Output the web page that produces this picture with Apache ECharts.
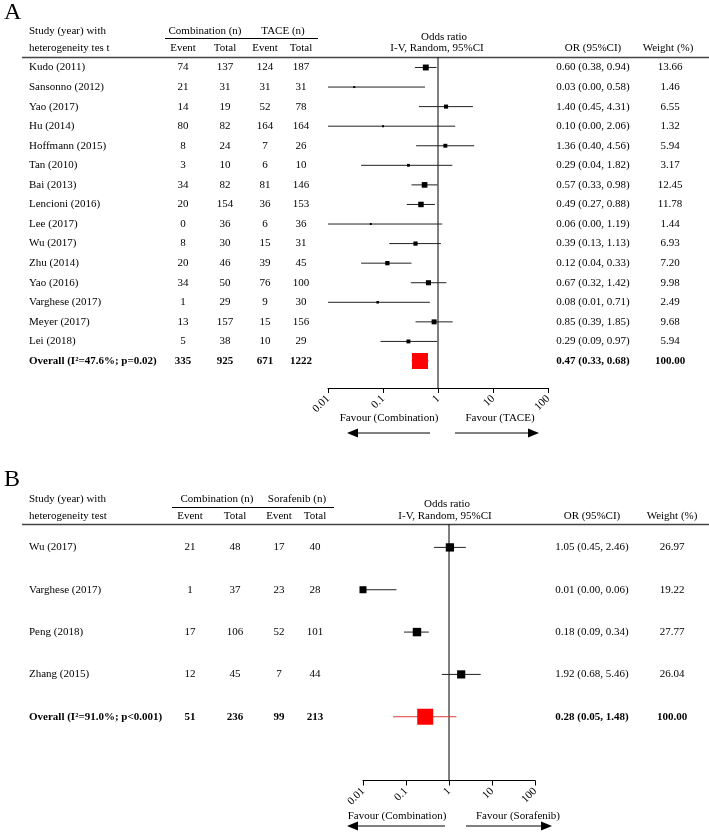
<!DOCTYPE html>
<html>
<head>
<meta charset="utf-8">
<script src="https://cdn.jsdelivr.net/npm/echarts@6/dist/echarts.min.js"></script>
<style>html,body{margin:0;padding:0;background:#fff}#c{width:709px;height:835px}</style>
</head>
<body>
<div id="c"></div>
<script>
// ---------- DATA: Panel A (Combination vs TACE) ----------
const studiesA = ['Kudo (2011)','Sansonno (2012)','Yao (2017)','Hu (2014)','Hoffmann (2015)','Tan (2010)','Bai (2013)','Lencioni (2016)','Lee (2017)','Wu (2017)','Zhu (2014)','Yao (2016)','Varghese (2017)','Meyer (2017)','Lei (2018)','Overall (I\u00B2=47.6%; p=0.02)'];
const comboEventA = [74,21,14,80,8,3,34,20,0,8,20,34,1,13,5,335];
const comboTotalA = [137,31,19,82,24,10,82,154,36,30,46,50,29,157,38,925];
const taceEventA  = [124,31,52,164,7,6,81,36,6,15,39,76,9,15,10,671];
const taceTotalA  = [187,31,78,164,26,10,146,153,36,31,45,100,30,156,29,1222];
const orA   = [0.60,0.03,1.40,0.10,1.36,0.29,0.57,0.49,0.06,0.39,0.12,0.67,0.08,0.85,0.29,0.47];
const loA   = [0.38,0.00,0.45,0.00,0.40,0.04,0.33,0.27,0.00,0.13,0.04,0.32,0.01,0.39,0.09,0.33];
const hiA   = [0.94,0.58,4.31,2.06,4.56,1.82,0.98,0.88,1.19,1.13,0.33,1.42,0.71,1.85,0.97,0.68];
const weightA = [13.66,1.46,6.55,1.32,5.94,3.17,12.45,11.78,1.44,6.93,7.20,9.98,2.49,9.68,5.94,100.00];

// ---------- DATA: Panel B (Combination vs Sorafenib) ----------
const studiesB = ['Wu (2017)','Varghese (2017)','Peng (2018)','Zhang (2015)','Overall (I\u00B2=91.0%; p<0.001)'];
const comboEventB = [21,1,17,12,51];
const comboTotalB = [48,37,106,45,236];
const soraEventB  = [17,23,52,7,99];
const soraTotalB  = [40,28,101,44,213];
const orB   = [1.05,0.01,0.18,1.92,0.28];
const loB   = [0.45,0.00,0.09,0.68,0.05];
const hiB   = [2.46,0.06,0.34,5.46,1.48];
const weightB = [26.97,19.22,27.77,26.04,100.00];

const tickLabels = ['0.01','0.1','1','10','100'];
const axisMin = 0.01, axisMax = 100;

// ---------- LAYOUT ----------
const FONT = '"Liberation Serif", "Times New Roman", serif';
const colsA = {study:29, e1:183, t1:225, e2:265, t2:301, or:593, w:670};
const colsB = {study:29, e1:190, t1:235, e2:279, t2:315, or:592, w:672};

const chart = echarts.init(document.getElementById('c'), null, {renderer:'canvas'});

function txt(text, x, y, align, bold, size) {
  return {type:'text', silent:true, style:{text:String(text), x:x, y:y, align:align||'center', verticalAlign:'middle',
    font:(bold?'bold ':'')+(size||11)+'px '+FONT, fill:'#000'}};
}

function tableSeries(idx, studies, e1, t1, e2, t2, or, lo, hi, w, cols) {
  const last = studies.length - 1;
  return {
    type:'custom', xAxisIndex:idx, yAxisIndex:idx, silent:true, clip:false,
    data: studies.map((s,i)=>[1,i]),
    renderItem: function(params, api) {
      const i = params.dataIndex;
      const y = api.coord([1, i])[1];
      const b = i === last;
      return {type:'group', children:[
        txt(studies[i], cols.study, y, 'left', b),
        txt(e1[i], cols.e1, y, 'center', b),
        txt(t1[i], cols.t1, y, 'center', b),
        txt(e2[i], cols.e2, y, 'center', b),
        txt(t2[i], cols.t2, y, 'center', b),
        txt(or[i].toFixed(2)+' ('+lo[i].toFixed(2)+', '+hi[i].toFixed(2)+')', cols.or, y, 'center', b),
        txt(w[i].toFixed(2), cols.w, y, 'center', b)
      ]};
    }
  };
}

function forestSeries(idx, or, lo, hi, w) {
  const last = or.length - 1;
  return {
    type:'custom', xAxisIndex:idx, yAxisIndex:idx, silent:true, clip:false,
    data: or.map((v,i)=>[v, i, Math.max(lo[i], axisMin), Math.min(hi[i], axisMax), w[i]]),
    encode:{x:0, y:1},
    renderItem: function(params, api) {
      const i = params.dataIndex;
      const c = api.coord([api.value(0), api.value(1)]);
      const l = api.coord([api.value(2), api.value(1)]);
      const h = api.coord([api.value(3), api.value(1)]);
      const s = Math.max(2, 1.6*Math.sqrt(api.value(4)));
      const overall = i === last;
      const col = overall ? '#ff0000' : '#000';
      return {type:'group', children:[
        {type:'line', shape:{x1:l[0], y1:c[1], x2:h[0], y2:c[1]}, style:{stroke: overall ? '#e03a3a' : '#222', lineWidth:1}},
        {type:'rect', shape:{x:c[0]-s/2, y:c[1]-s/2, width:s, height:s}, style:{fill:col}}
      ]};
    }
  };
}

function refLineSeries(idx) {
  return {
    type:'custom', xAxisIndex:idx, yAxisIndex:idx, silent:true, clip:false,
    data:[[1]],
    encode:{x:0},
    renderItem: function(params, api) {
      const cs = params.coordSys;
      const x = api.coord([1, 0])[0];
      return {type:'line', shape:{x1:x, y1:cs.y, x2:x, y2:cs.y+cs.height}, style:{stroke:'#000', lineWidth:1}};
    }
  };
}

function xAxis(idx) {
  return {
    type:'log', logBase:10, gridIndex:idx, min:axisMin, max:axisMax, splitNumber:4, position:'bottom',
    axisLine:{show:true, onZero:false, lineStyle:{color:'#000', width:1}},
    axisTick:{show:true, length:5, lineStyle:{color:'#000', width:1}},
    minorTick:{show:false}, splitLine:{show:false},
    axisLabel:{rotate:45, margin:9, color:'#000', fontFamily:FONT, fontSize:11,
      formatter: v => tickLabels[Math.round(Math.log10(v)) + 2]}
  };
}

function arrow(x1, x2, y) {
  const dir = x2 > x1 ? 1 : -1;
  const headLen = 11, headH = 4.5;
  return [
    {type:'line', silent:true, shape:{x1:x1, y1:y, x2:x2 - dir*headLen, y2:y}, style:{stroke:'#000', lineWidth:1}},
    {type:'polygon', silent:true, shape:{points:[[x2,y],[x2-dir*headLen,y-headH],[x2-dir*headLen,y+headH]]}, style:{fill:'#000'}}
  ];
}
function hline(x1, x2, y, color, w) {
  return {type:'line', silent:true, shape:{x1:x1, y1:y, x2:x2, y2:y}, style:{stroke:color||'#000', lineWidth:w||1}};
}

const graphics = [
  // Panel A headers
  txt('A', 4, 13, 'left', false, 24),
  txt('Study (year) with', colsA.study, 31, 'left'),
  txt('heterogeneity tes t', colsA.study, 48, 'left'),
  txt('Combination (n)', 205, 31), txt('TACE (n)', 283, 31),
  hline(165, 318, 38.5),
  txt('Event', colsA.e1, 48), txt('Total', colsA.t1, 48), txt('Event', colsA.e2, 48), txt('Total', colsA.t2, 48),
  txt('Odds ratio', 444, 37), txt('I-V, Random, 95%CI', 437, 48),
  txt('OR (95%CI)', 593, 48), txt('Weight (%)', 668, 48),
  hline(22, 709, 57.5, '#444', 1.3),
  txt('Favour (Combination)', 389, 418), txt('Favour (TACE)', 500, 418),
  ...arrow(430, 347, 433), ...arrow(455, 539, 433),
  // Panel B headers
  txt('B', 4, 480, 'left', false, 24),
  txt('Study (year) with', colsB.study, 499, 'left'),
  txt('heterogeneity test', colsB.study, 516, 'left'),
  txt('Combination (n)', 217, 499), txt('Sorafenib (n)', 297, 499),
  hline(172, 334, 507.5),
  txt('Event', colsB.e1, 516), txt('Total', colsB.t1, 516), txt('Event', colsB.e2, 516), txt('Total', colsB.t2, 516),
  txt('Odds ratio', 447, 504), txt('I-V, Random, 95%CI', 445, 516),
  txt('OR (95%CI)', 592, 516), txt('Weight (%)', 672, 516),
  hline(22, 709, 524.5, '#444', 1.3),
  txt('Favour (Combination)', 397, 816), txt('Favour (Sorafenib)', 518, 816),
  ...arrow(445, 347, 826), ...arrow(466, 552, 826)
];

chart.setOption({
  animation:false,
  backgroundColor:'#fff',
  grid:[
    {left:328, width:220, top:57.5, height:330.5},
    {left:363, width:172, top:524.5, height:256}
  ],
  xAxis:[xAxis(0), xAxis(1)],
  yAxis:[
    {type:'value', gridIndex:0, inverse:true, min:-0.51, max:16.38, show:false},
    {type:'value', gridIndex:1, inverse:true, min:-0.541, max:5.506, show:false}
  ],
  graphic:{elements:graphics},
  series:[
    refLineSeries(0),
    forestSeries(0, orA, loA, hiA, weightA),
    tableSeries(0, studiesA, comboEventA, comboTotalA, taceEventA, taceTotalA, orA, loA, hiA, weightA, colsA),
    refLineSeries(1),
    forestSeries(1, orB, loB, hiB, weightB),
    tableSeries(1, studiesB, comboEventB, comboTotalB, soraEventB, soraTotalB, orB, loB, hiB, weightB, colsB)
  ]
});
</script>
</body>
</html>
